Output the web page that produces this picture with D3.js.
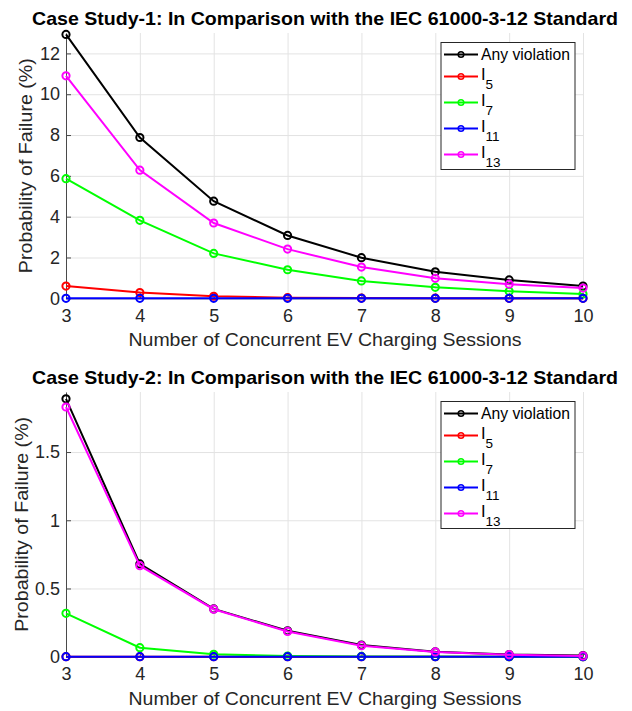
<!DOCTYPE html>
<html>
<head>
<meta charset="utf-8">
<title>Probability of Failure</title>
<script src="https://cdn.jsdelivr.net/npm/d3@7"></script>
<style>
  body { margin: 0; background: #fff; }
  svg text { font-family: "Liberation Sans", Arial, Helvetica, sans-serif; }
</style>
</head>
<body>
<script>
// x values shared by both case studies
const sessions = [3, 4, 5, 6, 7, 8, 9, 10];

const legendMain = ["Any violation", "I", "I", "I", "I"];
const legendSub  = ["", "5", "7", "11", "13"];
const colors = ["#000000", "#ff0000", "#00ff00", "#0000ff", "#ff00ff"];

// Case study 1 (%)
const case1Any = [12.93, 7.88, 4.76, 3.08, 1.99, 1.30, 0.90, 0.60];
const case1I5  = [0.60, 0.28, 0.10, 0.03, 0.01, 0.005, 0, 0];
const case1I7  = [5.86, 3.82, 2.20, 1.40, 0.85, 0.54, 0.34, 0.21];
const case1I11 = [0, 0, 0, 0, 0, 0, 0, 0];
const case1I13 = [10.90, 6.28, 3.69, 2.41, 1.53, 0.98, 0.69, 0.50];
const case1Ticks = [0, 2, 4, 6, 8, 10, 12];

// Case study 2 (%)
const case2Any = [1.89, 0.68, 0.35, 0.19, 0.085, 0.036, 0.016, 0.008];
const case2I5  = [0, 0, 0, 0, 0, 0, 0, 0];
const case2I7  = [0.318, 0.066, 0.018, 0.005, 0.002, 0.001, 0, 0];
const case2I11 = [0, 0, 0, 0, 0, 0, 0, 0];
const case2I13 = [1.83, 0.667, 0.348, 0.185, 0.081, 0.035, 0.015, 0.006];
const case2Ticks = [0, 0.5, 1, 1.5];

const titles = [
  "Case Study-1: In Comparison with the IEC 61000-3-12 Standard",
  "Case Study-2: In Comparison with the IEC 61000-3-12 Standard"
];
const xLabel = "Number of Concurrent EV Charging Sessions";
const yLabel = "Probability of Failure (%)";

const W = 632, H = 711;
const svg = d3.select("body").append("svg")
  .attr("width", W).attr("height", H);

function drawPanel(top, bottom, yMax, ticks, series, title, yLabelX) {
  const left = 66, right = 583;
  const x = d3.scaleLinear().domain([3, 10]).range([left, right]);
  const y = d3.scaleLinear().domain([0, yMax]).range([bottom, top]);
  const g = svg.append("g");

  // grid
  g.append("g")
    .attr("transform", "translate(0," + bottom + ")")
    .call(d3.axisBottom(x).tickValues(sessions).tickSize(-(bottom - top)).tickFormat(""))
    .call(a => a.select(".domain").remove())
    .selectAll("line").attr("stroke", "#e3e3e3");
  g.append("g")
    .attr("transform", "translate(" + left + ",0)")
    .call(d3.axisLeft(y).tickValues(ticks).tickSize(-(right - left)).tickFormat(""))
    .call(a => a.select(".domain").remove())
    .selectAll("line").attr("stroke", "#e3e3e3");

  // axes
  const xa = g.append("g")
    .attr("transform", "translate(0," + bottom + ")")
    .call(d3.axisBottom(x).tickValues(sessions).tickSize(-5).tickSizeOuter(0).tickPadding(11)
      .tickFormat(d3.format("d")));
  const ya = g.append("g")
    .attr("transform", "translate(" + left + ",0)")
    .call(d3.axisLeft(y).tickValues(ticks).tickSize(-5).tickSizeOuter(0).tickPadding(6)
      .tickFormat(d3.format("~g")));
  [xa, ya].forEach(a => {
    a.selectAll("path, line").attr("stroke", "#4a4a4a");
    a.selectAll("text").attr("fill", "#262626").style("font-size", "18px");
  });

  // lines and markers
  const line = d3.line().x((d, i) => x(sessions[i])).y(d => y(d));
  series.forEach((vals, k) => {
    g.append("path").datum(vals)
      .attr("d", line).attr("fill", "none")
      .attr("stroke", colors[k]).attr("stroke-width", 2);
    g.selectAll(null).data(vals).enter().append("circle")
      .attr("cx", (d, i) => x(sessions[i])).attr("cy", d => y(d))
      .attr("r", 3.6).attr("fill", "none")
      .attr("stroke", colors[k]).attr("stroke-width", 2);
  });

  // title and labels
  g.append("text").attr("x", 325).attr("y", top - 8)
    .attr("text-anchor", "middle").attr("font-weight", "bold")
    .style("font-size", "18.5px").attr("fill", "#000")
    .attr("textLength", 586).attr("lengthAdjust", "spacingAndGlyphs")
    .text(title);
  g.append("text").attr("x", 325).attr("y", bottom + 48)
    .attr("text-anchor", "middle").style("font-size", "19px").attr("fill", "#262626")
    .attr("textLength", 393).attr("lengthAdjust", "spacingAndGlyphs")
    .text(xLabel);
  g.append("text")
    .attr("transform", "translate(" + yLabelX + "," + ((top + bottom) / 2) + ") rotate(-90)")
    .attr("text-anchor", "middle").style("font-size", "19px").attr("fill", "#262626")
    .attr("textLength", 215).attr("lengthAdjust", "spacingAndGlyphs")
    .text(yLabel);

  // legend
  const lx = 441, ly = top + 9.5;
  const lg = g.append("g").attr("transform", "translate(" + lx + "," + ly + ")");
  lg.append("rect").attr("width", 134).attr("height", 127)
    .attr("fill", "#fff").attr("stroke", "#262626").attr("stroke-width", 1);
  const rowY = [12, 34, 60, 86, 112];
  legendMain.forEach((m, k) => {
    const ry = rowY[k];
    lg.append("line").attr("x1", 3).attr("x2", 37).attr("y1", ry).attr("y2", ry)
      .attr("stroke", colors[k]).attr("stroke-width", 2);
    lg.append("circle").attr("cx", 20).attr("cy", ry).attr("r", 2.8)
      .attr("fill", "none").attr("stroke", colors[k]).attr("stroke-width", 1.5);
    const t = lg.append("text").attr("x", 40).attr("fill", "#000")
      .style("font-size", "16.5px");
    if (legendSub[k] === "") {
      t.attr("y", ry + 5.5).attr("textLength", 89).attr("lengthAdjust", "spacingAndGlyphs").text(m);
    } else {
      t.attr("y", ry + 3).text(m);
      lg.append("text").attr("x", 44.5).attr("y", ry + 12).attr("fill", "#000")
        .style("font-size", "13.5px").text(legendSub[k]);
    }
  });
}

drawPanel(33, 298.3, 13, case1Ticks,
  [case1Any, case1I5, case1I7, case1I11, case1I13], titles[0], 32);
drawPanel(392, 656.7, 1.94, case2Ticks,
  [case2Any, case2I5, case2I7, case2I11, case2I13], titles[1], 27.5);
</script>
</body>
</html>
